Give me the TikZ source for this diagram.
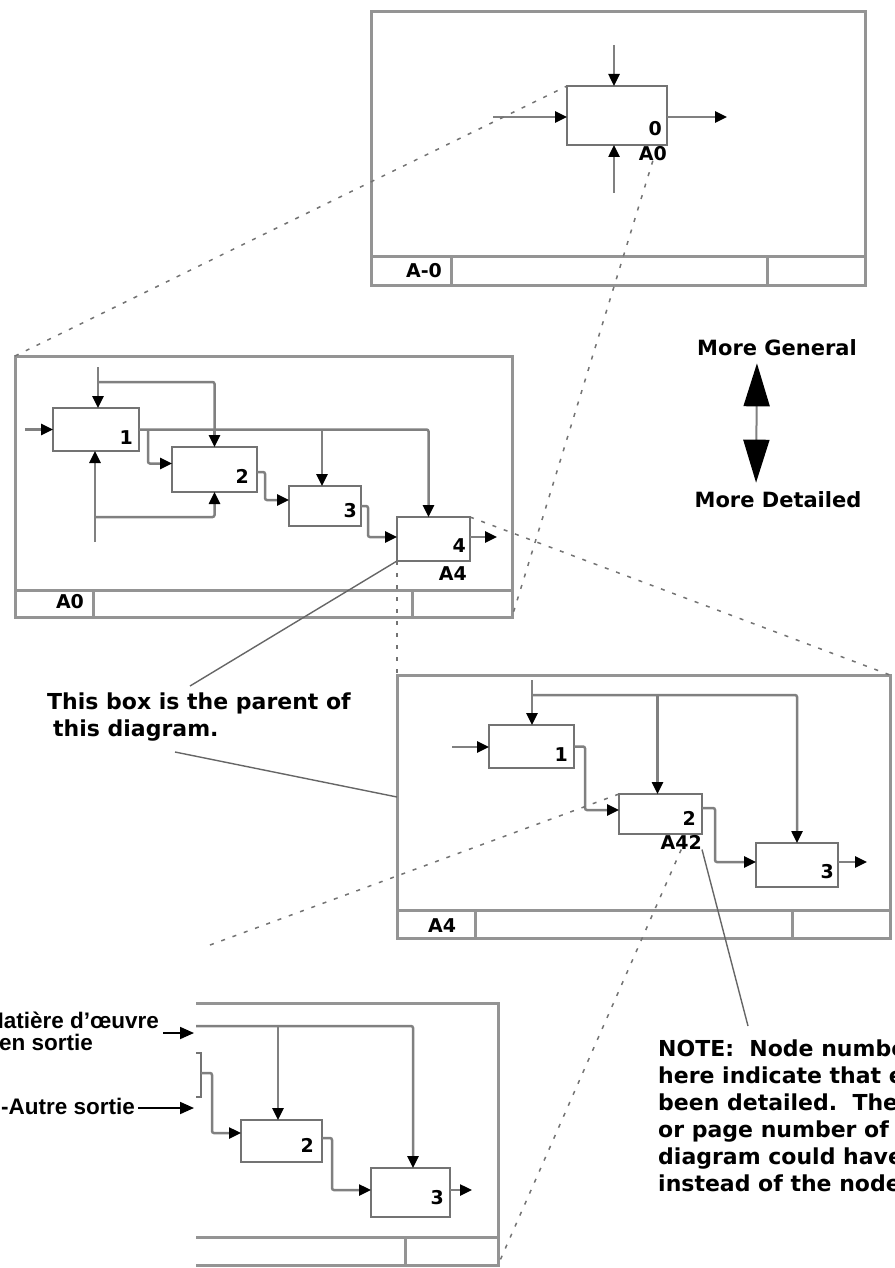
\documentclass[tikz,border=0pt]{standalone}
\usepackage{fontspec}
\usetikzlibrary{arrows.meta, calc, positioning}
\newfontfamily\pixfont{DejaVu Sans}
\newfontfamily\labfont{Liberation Sans}

\tikzset{
  frame/.style={draw=black!42, line width=3pt, inner sep=0pt, outer sep=0pt},
  actbox/.style={draw=black!55, line width=2.5pt, inner sep=0pt, outer sep=0pt},
  link/.style={draw=black!50, line width=2.5pt, rounded corners=2pt},
  arr/.style={link, -{Triangle[length=12pt,width=11pt,color=black]}},
  guide/.style={draw=black!55, line width=1.5pt, dash pattern=on 4pt off 8pt},
  lead/.style={draw=black!60, line width=1.4pt},
  labarr/.style={draw=black, line width=1.8pt, -{Triangle[length=14pt,width=12pt]}},
  dbl/.style={draw=black!50, line width=2pt, {Triangle[length=43pt,width=26pt,color=black]}-{Triangle[length=43pt,width=26pt,color=black]}},
  num/.style={font=\pixfont\bfseries\fontsize{19}{19}\selectfont, inner sep=0pt},
  pix/.style={font=\pixfont\bfseries\fontsize{22}{27}\selectfont, inner sep=0pt, align=left},
  lab/.style={font=\labfont\bfseries\fontsize{22.5}{22}\selectfont, inner sep=0pt, align=left},
}

\begin{document}
\begin{tikzpicture}[x=1pt, y=-1pt]
  \useasboundingbox (0,0) rectangle (894,1268);

  % Top diagram (A-0)
  \node[frame, minimum width=494, minimum height=273] (ftop) at (618,148.5) {};
  \draw[frame] (371,256) -- (865,256);
  \draw[frame] (451,256) -- (451,285);
  \draw[frame] (767,256) -- (767,285);
  \node[num] (ftoplbl) at (424,271) {A-0};

  \node[actbox, minimum width=100, minimum height=59] (a0) at (617,115.5) {};
  \node[num, anchor=south east] (a0n) at ([xshift=-5pt,yshift=9pt]a0.south east) {0};
  \node[num, anchor=north east] (a0lbl) at ([xshift=0pt,yshift=-1pt]a0.south east) {A0};
  \coordinate (a0c) at (614,45);
  \coordinate (a0i) at (493,117);
  \coordinate (a0o) at (727,117);
  \coordinate (a0m) at (614,193);
  \draw[arr] (a0c) -- (a0c |- a0.north);
  \draw[arr] (a0i) -- (a0i -| a0.west);
  \draw[arr] (a0o -| a0.east) -- (a0o);
  \draw[arr] (a0m) -- (a0m |- a0.south);

  % A0 diagram
  \node[frame, minimum width=497, minimum height=261] (fa0) at (263.5,486.5) {};
  \draw[frame] (15,590) -- (512,590);
  \draw[frame] (93,590) -- (93,617);
  \draw[frame] (412,590) -- (412,617);
  \node[num] (fa0lbl) at (70,602) {A0};

  \node[actbox, minimum width=86, minimum height=43] (b1) at (96,429.5) {};
  \node[actbox, minimum width=85, minimum height=45] (b2) at (214.5,469.5) {};
  \node[actbox, minimum width=72, minimum height=40] (b3) at (325,506) {};
  \node[actbox, minimum width=73, minimum height=44] (b4) at (433.5,539) {};
  \node[num, anchor=south east] (b1n) at ([xshift=-6pt,yshift=6pt]b1.south east) {1};
  \node[num, anchor=south east] (b2n) at ([xshift=-8pt,yshift=8pt]b2.south east) {2};
  \node[num, anchor=south east] (b3n) at ([xshift=-4pt,yshift=8pt]b3.south east) {3};
  \node[num, anchor=south east] (b4n) at ([xshift=-4pt,yshift=8pt]b4.south east) {4};
  \node[num, anchor=north east] (b4lbl) at ([xshift=-3pt,yshift=-5pt]b4.south east) {A4};

  \coordinate (b1c) at (98,367);
  \coordinate (b1cj) at (98,382);
  \coordinate (b1i) at (25,429.5);
  \coordinate (b1m) at (95,542);
  \coordinate (b1mj) at (95,517);
  \coordinate (b4o) at (497,537);
  \draw[arr] (b1c) -- (b1c |- b1.north);
  \draw[link] (b1cj) -| (b2.north |- b1.east);
  \draw[arr] (b1i) -- (b1.west);
  \draw[arr] (b1.east) -| ([xshift=-5pt]b4.north);
  \draw[arr] (b2.north |- b1.east) -- (b2.north);
  \draw[arr] ([xshift=-3pt]b3.north |- b1.east) -- ([xshift=-3pt]b3.north);
  \draw[arr] ([xshift=9pt]b1.east) |- ([yshift=6pt]b2.west);
  \draw[arr] (b1m) -- (b1m |- b1.south);
  \draw[arr] (b1mj) -| (b2.south);
  \draw[arr] ([yshift=-2.5pt]b2.east) -- ++(8,0) |- ([yshift=6pt]b3.west);
  \draw[arr] (b3.east) -- ++(7,0) |- ([yshift=2pt]b4.west);
  \draw[arr] ([yshift=2pt]b4.east) -- (b4o);

  % A4 diagram
  \node[frame, minimum width=493, minimum height=263] (fa4) at (643.5,806.5) {};
  \draw[frame] (397,910) -- (890,910);
  \draw[frame] (475,910) -- (475,938);
  \draw[frame] (792,910) -- (792,938);
  \node[num] (fa4lbl) at (442,926) {A4};

  \node[actbox, minimum width=85, minimum height=43] (c1) at (531.5,746.5) {};
  \node[actbox, minimum width=83, minimum height=40] (c2) at (660.5,814) {};
  \node[actbox, minimum width=82, minimum height=44] (c3) at (797,865) {};
  \node[num, anchor=south east] (c1n) at ([xshift=-6pt,yshift=6pt]c1.south east) {1};
  \node[num, anchor=south east] (c2n) at ([xshift=-6pt,yshift=8pt]c2.south east) {2};
  \node[num, anchor=south east] (c3n) at ([xshift=-4pt,yshift=8pt]c3.south east) {3};
  \node[num, anchor=north east] (c2lbl) at ([yshift=-1pt]c2.south east) {A42};

  \coordinate (c1c) at (532,680);
  \coordinate (c1cj) at (532,695);
  \coordinate (c1i) at (452,747);
  \coordinate (c3o) at (867,862);
  \draw[arr] (c1c) -- (c1c |- c1.north);
  \draw[arr] (c1cj) -| (c3.north);
  \draw[arr] ([xshift=-3pt]c2.north |- c1cj) -- ([xshift=-3pt]c2.north);
  \draw[arr] (c1i) -- (c1i -| c1.west);
  \draw[arr] (c1.east) -- ++(11,0) |- ([yshift=4pt]c2.west);
  \draw[arr] ([yshift=6pt]c2.east) -- ++(13,0) |- ([yshift=3pt]c3.west);
  \draw[arr] ([yshift=3pt]c3.east) -- (c3o);

  % A42 diagram, cut off at the left
  \begin{scope}
    \clip (196,990) rectangle (560,1268);
    \node[frame, minimum width=398, minimum height=262] (fa42) at (299,1134) {};
    \draw[frame] (100,1237) -- (498,1237);
    \draw[frame] (405,1237) -- (405,1265);

    \node[actbox, minimum width=82, minimum height=44] (d1) at (160,1075) {};
    \node[actbox, minimum width=81, minimum height=42] (d2) at (281.5,1141) {};
    \node[actbox, minimum width=79, minimum height=49] (d3) at (410.5,1192.5) {};
    \node[num, anchor=south east] (d1n) at ([xshift=-4pt,yshift=8pt]d1.south east) {1};
    \node[num, anchor=south east] (d2n) at ([xshift=-8pt,yshift=9pt]d2.south east) {2};
    \node[num, anchor=south east] (d3n) at ([xshift=-6pt,yshift=12pt]d3.south east) {3};

    \coordinate (d0c) at (150,1026);
    \coordinate (d3o) at (472,1190);
    \draw[arr] (d0c) -| ([xshift=2.5pt]d3.north);
    \draw[arr] ([xshift=-3.5pt]d2.north |- d0c) -- ([xshift=-3.5pt]d2.north);
    \draw[arr] ([yshift=2pt]d1.east) -- ++(11,0) |- ([yshift=8pt]d2.west);
    \draw[arr] ([yshift=3pt]d2.east) -- ++(10,0) |- ([yshift=2.5pt]d3.west);
    \draw[arr] ([yshift=2.5pt]d3.east) -- (d3o);
  \end{scope}

  % French labels on the left
  \node[lab, anchor=north west] (matl) at (-15,1012) {Matière d’œuvre\\\hspace*{14pt}en sortie};
  \node[lab, anchor=east] (autl) at (135,1106.5) {-Autre sortie};
  \coordinate (matin) at (194,1033);
  \coordinate (autin) at (194,1108);
  \draw[labarr, shorten <=4pt] (matl.east |- matin) -- (matin);
  \draw[labarr, shorten <=3pt] (autl.east |- autin) -- (autin);

  % More General / More Detailed
  \node[pix, font=\pixfont\bfseries\fontsize{21}{27}\selectfont] (gen) at (777,348) {More General};
  \node[pix, font=\pixfont\bfseries\fontsize{21}{27}\selectfont] (det) at (778,500) {More Detailed};
  \draw[dbl, shorten <=7pt, shorten >=9pt] ([xshift=-20pt]gen.south) -- ([xshift=-22pt]det.north);

  % Comments
  \node[pix, anchor=north west] (par) at (47,693) {This box is the parent of\\\hspace*{6pt}this diagram.};
  \node[pix, anchor=north west] (note) at (658,1040) {NOTE:\ \ Node numbers shown\\here indicate that each box has\\been detailed.\ \ The C-number\\or page number of the child\\diagram could have been used\\instead of the node number.};
  \coordinate (parup) at (190,686);
  \coordinate (pardn) at (175,752);
  \coordinate (notept) at (748,1026);
  \draw[lead] (b4.south west) -- (parup);
  \draw[lead] (pardn) -- (397,797);
  \draw[lead] (c2lbl.south east) -- (notept);

  % Dotted guides from parent boxes to child diagrams
  \coordinate (d42a) at (210,945);
  \draw[guide] (fa0.north west) -- (a0.north west);
  \draw[guide] (a0lbl.south) -- (fa0.south east);
  \draw[guide] (b4.south west) -- (fa4.north west);
  \draw[guide] (b4.north east) -- (fa4.north east);
  \draw[guide] (c2.north west) -- (d42a);
  \draw[guide] (c2lbl.south) -- (fa42.south east);
\end{tikzpicture}
\end{document}
